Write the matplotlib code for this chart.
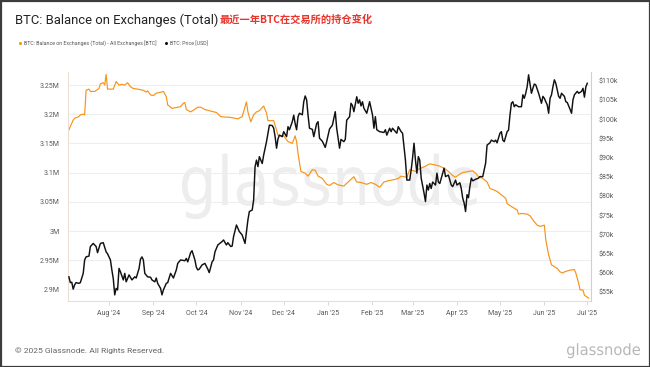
import matplotlib
matplotlib.use("Agg")
import matplotlib.pyplot as plt
import matplotlib.dates as mdates
from matplotlib.ticker import FixedLocator, FixedFormatter
from matplotlib.textpath import TextPath
from matplotlib.patches import PathPatch, Rectangle
from matplotlib.font_manager import FontProperties
from matplotlib.transforms import Affine2D
from matplotlib.lines import Line2D
import pandas as pd

# ---------------- data ----------------
balance_dates = [
    "2024-07-04", "2024-07-05", "2024-07-07", "2024-07-08", "2024-07-11", "2024-07-12", "2024-07-14",
    "2024-07-15", "2024-07-16", "2024-07-18", "2024-07-19", "2024-07-22", "2024-07-25", "2024-07-26",
    "2024-07-28", "2024-07-29", "2024-07-30", "2024-07-31", "2024-08-02", "2024-08-04", "2024-08-06",
    "2024-08-08", "2024-08-10", "2024-08-12", "2024-08-14", "2024-08-16", "2024-08-18", "2024-08-21",
    "2024-08-25", "2024-08-27", "2024-08-28", "2024-08-30", "2024-09-01", "2024-09-03", "2024-09-06",
    "2024-09-08", "2024-09-10", "2024-09-11", "2024-09-14", "2024-09-16", "2024-09-20", "2024-09-22",
    "2024-09-23", "2024-09-24", "2024-09-27", "2024-09-29", "2024-10-02", "2024-10-04", "2024-10-07",
    "2024-10-10", "2024-10-15", "2024-10-18", "2024-10-21", "2024-10-24", "2024-10-28", "2024-10-30",
    "2024-11-02", "2024-11-05", "2024-11-06", "2024-11-08", "2024-11-10", "2024-11-12", "2024-11-14",
    "2024-11-17", "2024-11-19", "2024-11-20", "2024-11-24", "2024-11-26", "2024-11-27", "2024-12-01",
    "2024-12-04", "2024-12-07", "2024-12-09", "2024-12-10", "2024-12-11", "2024-12-13", "2024-12-16",
    "2024-12-18", "2024-12-21", "2024-12-23", "2024-12-25", "2024-12-28", "2024-12-31", "2025-01-02",
    "2025-01-05", "2025-01-08", "2025-01-12", "2025-01-15", "2025-01-19", "2025-01-21", "2025-01-24",
    "2025-01-28", "2025-01-31", "2025-02-03", "2025-02-06", "2025-02-09", "2025-02-12", "2025-02-16",
    "2025-02-19", "2025-02-21", "2025-02-25", "2025-02-27", "2025-03-03", "2025-03-06", "2025-03-10",
    "2025-03-13", "2025-03-17", "2025-03-20", "2025-03-24", "2025-03-26", "2025-03-29", "2025-03-31",
    "2025-04-02", "2025-04-05", "2025-04-09", "2025-04-12", "2025-04-14", "2025-04-16", "2025-04-19",
    "2025-04-22", "2025-04-24", "2025-04-28", "2025-04-30", "2025-05-02", "2025-05-05", "2025-05-06",
    "2025-05-09", "2025-05-13", "2025-05-14", "2025-05-16", "2025-05-20", "2025-05-22", "2025-05-24",
    "2025-05-27", "2025-05-29", "2025-06-01", "2025-06-02", "2025-06-04", "2025-06-06", "2025-06-10",
    "2025-06-12", "2025-06-14", "2025-06-15", "2025-06-19", "2025-06-22", "2025-06-23", "2025-06-25",
    "2025-06-26", "2025-06-28", "2025-06-29", "2025-07-02",
]
balance_btc_m = [
    3.173, 3.179, 3.190, 3.193, 3.196, 3.199, 3.200,
    3.199, 3.241, 3.243, 3.239, 3.239, 3.244, 3.252,
    3.254, 3.250, 3.268, 3.243, 3.243, 3.243, 3.256,
    3.250, 3.251, 3.250, 3.254, 3.247, 3.244, 3.243,
    3.241, 3.238, 3.240, 3.233, 3.232, 3.236, 3.2375,
    3.239, 3.230, 3.216, 3.210, 3.211, 3.213, 3.219,
    3.220, 3.208, 3.204, 3.207, 3.212, 3.212, 3.208,
    3.206, 3.203, 3.196, 3.195, 3.195, 3.193, 3.192,
    3.196, 3.221, 3.204, 3.187, 3.199, 3.204, 3.206,
    3.214, 3.202, 3.189, 3.189, 3.173, 3.164, 3.163,
    3.153, 3.150, 3.163, 3.153, 3.133, 3.102, 3.099,
    3.094, 3.105, 3.104, 3.094, 3.090, 3.080, 3.078,
    3.083, 3.079, 3.077, 3.084, 3.093, 3.084, 3.083,
    3.080, 3.083, 3.080, 3.075, 3.084, 3.086, 3.088,
    3.090, 3.094, 3.092, 3.105, 3.102, 3.107, 3.111,
    3.115, 3.113, 3.111, 3.106, 3.102, 3.095, 3.092,
    3.096, 3.100, 3.102, 3.103, 3.099, 3.093, 3.090,
    3.084, 3.073, 3.069, 3.066, 3.062, 3.056, 3.047,
    3.042, 3.036, 3.029, 3.030, 3.029, 3.026, 3.019,
    3.010, 3.008, 3.010, 2.985, 2.959, 2.942, 2.936,
    2.930, 2.928, 2.930, 2.933, 2.934, 2.928, 2.910,
    2.899, 2.899, 2.890, 2.885,
]

price_dates = [
    "2024-07-04", "2024-07-05", "2024-07-06", "2024-07-07", "2024-07-08", "2024-07-09", "2024-07-11",
    "2024-07-12", "2024-07-14", "2024-07-15", "2024-07-16", "2024-07-18", "2024-07-19", "2024-07-21",
    "2024-07-23", "2024-07-24", "2024-07-26", "2024-07-28", "2024-07-30", "2024-07-31", "2024-08-02",
    "2024-08-03", "2024-08-04", "2024-08-05", "2024-08-06", "2024-08-07", "2024-08-08", "2024-08-09",
    "2024-08-11", "2024-08-12", "2024-08-13", "2024-08-15", "2024-08-17", "2024-08-19", "2024-08-20",
    "2024-08-22", "2024-08-23", "2024-08-24", "2024-08-25", "2024-08-26", "2024-08-28", "2024-08-30",
    "2024-08-31", "2024-09-02", "2024-09-03", "2024-09-04", "2024-09-06", "2024-09-07", "2024-09-08",
    "2024-09-10", "2024-09-11", "2024-09-13", "2024-09-15", "2024-09-17", "2024-09-18", "2024-09-20",
    "2024-09-23", "2024-09-24", "2024-09-25", "2024-09-27", "2024-09-28", "2024-09-30", "2024-10-01",
    "2024-10-02", "2024-10-03", "2024-10-05", "2024-10-07", "2024-10-09", "2024-10-10", "2024-10-12",
    "2024-10-13", "2024-10-14", "2024-10-16", "2024-10-19", "2024-10-20", "2024-10-22", "2024-10-23",
    "2024-10-25", "2024-10-26", "2024-10-27", "2024-10-29", "2024-10-31", "2024-11-02", "2024-11-03",
    "2024-11-04", "2024-11-06", "2024-11-07", "2024-11-09", "2024-11-10", "2024-11-11", "2024-11-12",
    "2024-11-13", "2024-11-14", "2024-11-16", "2024-11-17", "2024-11-19", "2024-11-20", "2024-11-21",
    "2024-11-23", "2024-11-24", "2024-11-25", "2024-11-26", "2024-11-27", "2024-11-28", "2024-11-30",
    "2024-12-01", "2024-12-03", "2024-12-04", "2024-12-05", "2024-12-07", "2024-12-08", "2024-12-09",
    "2024-12-10", "2024-12-11", "2024-12-12", "2024-12-14", "2024-12-15", "2024-12-16", "2024-12-17",
    "2024-12-18", "2024-12-19", "2024-12-21", "2024-12-22", "2024-12-24", "2024-12-25", "2024-12-26",
    "2024-12-28", "2024-12-30", "2024-12-31", "2025-01-02", "2025-01-04", "2025-01-06", "2025-01-07",
    "2025-01-09", "2025-01-10", "2025-01-12", "2025-01-13", "2025-01-14", "2025-01-16", "2025-01-17",
    "2025-01-18", "2025-01-19", "2025-01-21", "2025-01-22", "2025-01-23", "2025-01-24", "2025-01-25",
    "2025-01-26", "2025-01-28", "2025-01-30", "2025-01-31", "2025-02-01", "2025-02-02", "2025-02-03",
    "2025-02-04", "2025-02-06", "2025-02-09", "2025-02-10", "2025-02-11", "2025-02-13", "2025-02-14",
    "2025-02-15", "2025-02-17", "2025-02-18", "2025-02-19", "2025-02-21", "2025-02-22", "2025-02-23",
    "2025-02-24", "2025-02-25", "2025-02-27", "2025-02-28", "2025-03-01", "2025-03-02", "2025-03-03",
    "2025-03-04", "2025-03-05", "2025-03-06", "2025-03-07", "2025-03-09", "2025-03-10", "2025-03-11",
    "2025-03-12", "2025-03-13", "2025-03-14", "2025-03-15", "2025-03-17", "2025-03-18", "2025-03-19",
    "2025-03-20", "2025-03-22", "2025-03-23", "2025-03-24", "2025-03-26", "2025-03-28", "2025-03-29",
    "2025-03-31", "2025-04-01", "2025-04-03", "2025-04-04", "2025-04-05", "2025-04-06", "2025-04-07",
    "2025-04-08", "2025-04-09", "2025-04-10", "2025-04-11", "2025-04-12", "2025-04-14", "2025-04-16",
    "2025-04-17", "2025-04-19", "2025-04-21", "2025-04-22", "2025-04-24", "2025-04-25", "2025-04-27",
    "2025-04-28", "2025-04-29", "2025-05-01", "2025-05-02", "2025-05-03", "2025-05-04", "2025-05-06",
    "2025-05-07", "2025-05-08", "2025-05-09", "2025-05-10", "2025-05-11", "2025-05-12", "2025-05-14",
    "2025-05-16", "2025-05-17", "2025-05-18", "2025-05-19", "2025-05-20", "2025-05-21", "2025-05-23",
    "2025-05-24", "2025-05-25", "2025-05-26", "2025-05-28", "2025-05-30", "2025-05-31", "2025-06-01",
    "2025-06-02", "2025-06-03", "2025-06-04", "2025-06-05", "2025-06-06", "2025-06-07", "2025-06-08",
    "2025-06-09", "2025-06-11", "2025-06-12", "2025-06-13", "2025-06-15", "2025-06-16", "2025-06-17",
    "2025-06-19", "2025-06-20", "2025-06-21", "2025-06-22", "2025-06-24", "2025-06-25", "2025-06-27",
    "2025-06-28", "2025-06-29", "2025-06-30", "2025-07-01",
]
price_usd_k = [
    59.0, 57.5, 57.6, 55.8, 56.9, 57.5, 57.3,
    57.5, 59.9, 63.4, 64.2, 64.4, 66.9, 67.7,
    66.9, 65.3, 67.7, 67.9, 65.5, 65.0, 63.4,
    60.8, 58.5, 54.3, 56.0, 55.6, 61.2, 60.3,
    58.2, 59.9, 57.7, 59.5, 58.2, 59.0, 58.7,
    61.2, 63.6, 64.2, 63.4, 59.9, 59.0, 58.9,
    58.2, 57.7, 58.7, 57.3, 56.0, 54.3, 55.6,
    57.3, 57.5, 59.9, 58.7, 60.8, 62.5, 63.4,
    63.2, 63.8, 62.9, 65.3, 65.8, 63.4, 61.5,
    60.8, 61.0, 62.1, 62.5, 61.0, 60.1, 62.9,
    63.4, 65.5, 67.3, 68.2, 68.6, 67.3, 67.9,
    66.9, 67.0, 69.5, 72.5, 70.8, 69.9, 68.8,
    67.7, 73.8, 76.0, 76.4, 79.0, 87.7, 89.4,
    87.7, 90.3, 88.5, 90.7, 94.2, 96.4, 98.5,
    98.4, 97.7, 95.5, 92.5, 94.9, 95.9, 95.5,
    96.8, 95.5, 98.1, 97.3, 99.4, 101.1, 98.9,
    97.3, 100.7, 101.6, 101.2, 104.6, 106.1, 105.1,
    101.1, 97.7, 97.4, 95.5, 98.9, 99.4, 95.1,
    94.3, 92.7, 94.2, 97.5, 98.5, 102.0, 97.7,
    92.5, 94.8, 94.2, 94.8, 99.8, 100.7, 104.2,
    103.6, 102.0, 105.9, 104.2, 105.1, 103.5, 104.6,
    102.9, 101.6, 104.6, 102.9, 101.2, 97.7, 100.7,
    97.3, 96.8, 96.6, 97.3, 95.9, 97.7, 96.8,
    97.7, 96.8, 96.4, 98.1, 96.8, 96.4, 92.9,
    89.4, 84.2, 84.2, 86.8, 90.0, 93.8, 89.4,
    86.0, 90.3, 89.4, 84.7, 80.8, 78.6, 82.9,
    81.6, 83.3, 82.0, 83.7, 82.9, 86.0, 83.7,
    83.3, 86.0, 87.3, 85.1, 85.5, 82.9, 82.5,
    84.2, 82.9, 83.5, 82.0, 79.5, 78.2, 76.0,
    80.4, 79.6, 82.5, 84.7, 84.0, 84.4, 84.7,
    85.1, 85.1, 88.6, 93.3, 93.9, 94.6, 94.2,
    94.6, 93.9, 96.4, 96.8, 94.6, 94.2, 96.8,
    97.2, 101.1, 104.2, 104.6, 103.3, 103.8, 103.3,
    103.3, 106.4, 105.5, 106.8, 108.5, 111.6, 106.8,
    108.1, 109.2, 109.0, 106.8, 104.2, 106.0, 105.5,
    104.6, 103.8, 101.6, 105.5, 106.4, 108.5, 110.3,
    109.4, 106.0, 105.5, 106.8, 106.0, 104.6, 104.4,
    102.6, 101.6, 105.1, 106.4, 107.3, 106.8, 107.3,
    108.1, 105.8, 108.5, 109.4,
]

left_ticks = [2.9, 2.95, 3.0, 3.05, 3.1, 3.15, 3.2, 3.25]
left_labels = ["2.9M", "2.95M", "3M", "3.05M", "3.1M", "3.15M", "3.2M", "3.25M"]
right_ticks = [55, 60, 65, 70, 75, 80, 85, 90, 95, 100, 105, 110]
right_labels = ["$55k", "$60k", "$65k", "$70k", "$75k", "$80k", "$85k", "$90k",
                "$95k", "$100k", "$105k", "$110k"]
month_ticks = ["2024-08-01", "2024-09-01", "2024-10-01", "2024-11-01", "2024-12-01", "2025-01-01",
               "2025-02-01", "2025-03-01", "2025-04-01", "2025-05-01", "2025-06-01", "2025-07-01"]
month_labels = ["Aug '24", "Sep '24", "Oct '24", "Nov '24", "Dec '24", "Jan '25",
                "Feb '25", "Mar '25", "Apr '25", "May '25", "Jun '25", "Jul '25"]

title_en = "BTC: Balance on Exchanges (Total)"
title_cn = "最近一年BTC在交易所的持仓变化"
legend_labels = ["BTC: Balance on Exchanges (Total) - All Exchanges [BTC]", "BTC: Price [USD]"]

# ---------------- figure ----------------
W, H = 650, 367
fig = plt.figure(figsize=(W / 100, H / 100), dpi=100)
fig.patch.set_facecolor("white")
FONT = "Roboto"
ORANGE = "#f7931a"
BLACK = "#111111"
TICKC = "#5a5a5a"


def fx(px):
    return px / W


def fy(py):
    return 1 - py / H


def fitted_text(s, x0, x1, y_base, x_height, color, z):
    fp = FontProperties(family="DejaVu Sans")
    tp = TextPath((0, 0), s, size=100, prop=fp)
    ext = tp.get_extents()
    xh = TextPath((0, 0), "x", size=100, prop=fp).get_extents().height
    sx = (x1 - x0) / ext.width
    sy = x_height / xh
    tr = (Affine2D().translate(-ext.x0, 0).scale(sx, sy)
          .translate(x0, H - y_base).scale(1.0 / W, 1.0 / H))
    patch = PathPatch(tr.transform_path(tp), fc=color, ec="none",
                      transform=fig.transFigure, zorder=z)
    fig.patches.append(patch)
    patch.set_figure(fig)


# watermark (behind the plot)
fitted_text("glassnode", 182, 478, 205, 37, "#ededed", -5)

ax = fig.add_axes([fx(68), fy(300.5), fx(591) - fx(68), fy(72) - fy(300.5)])
ax2 = ax.twinx()
for a in (ax, ax2):
    a.set_facecolor("none")

bd = pd.to_datetime(balance_dates)
pdts = pd.to_datetime(price_dates)
ax.plot(bd, balance_btc_m, color=ORANGE, lw=0.85, solid_joinstyle="round")
ax2.plot(pdts, price_usd_k, color=BLACK, lw=1.05, solid_joinstyle="round")

ax.set_xlim(pd.Timestamp("2024-07-03 09:00"), pd.Timestamp("2025-07-03 14:00"))
ax.set_ylim(2.881, 3.2723)
ax2.set_ylim(52.84, 112.34)

ax.yaxis.set_major_locator(FixedLocator(left_ticks))
ax.yaxis.set_major_formatter(FixedFormatter(left_labels))
ax2.yaxis.set_major_locator(FixedLocator(right_ticks))
ax2.yaxis.set_major_formatter(FixedFormatter(right_labels))
mt = mdates.date2num(pd.to_datetime(month_ticks))
ax.xaxis.set_major_locator(FixedLocator(mt))
ax.xaxis.set_major_formatter(FixedFormatter(month_labels))

ax.yaxis.grid(True, color="#eeeeee", lw=0.8)
ax.set_axisbelow(True)

ax.tick_params(axis="y", length=0, pad=5.8, labelsize=5, labelcolor=TICKC)
ax2.tick_params(axis="y", length=0, pad=5.5, labelsize=5, labelcolor=TICKC)
ax.tick_params(axis="x", length=3, width=0.6, color="#d5d5d5", pad=4, labelsize=5, labelcolor=TICKC)
for lab in ax.get_xticklabels() + ax.get_yticklabels() + ax2.get_yticklabels():
    lab.set_family(FONT)

ax.spines["top"].set_visible(False)
ax.spines["right"].set_visible(False)
ax.spines["left"].set_color("#eadfd2")
ax.spines["left"].set_linewidth(0.8)
ax.spines["bottom"].set_color("#e0e0e0")
ax.spines["bottom"].set_linewidth(0.8)
for s in ("top", "left", "bottom"):
    ax2.spines[s].set_visible(False)
ax2.spines["right"].set_color("#cfcfcf")
ax2.spines["right"].set_linewidth(0.8)

# title
t1 = fig.text(fx(15), fy(20), title_en, fontsize=9.4, color="#222222",
              family=FONT, va="center", ha="left")
fig.canvas.draw()
bb = t1.get_window_extent(fig.canvas.get_renderer())
fig.text(bb.x1 / W + fx(1), fy(20), title_cn, fontsize=7.4, color="#e8352b",
         family=["Noto Sans CJK SC", "DejaVu Sans"], weight="bold", va="center", ha="left")

# legend
fig.add_artist(Line2D([fx(20)], [fy(43.3)], marker="o", ms=2.2, color=ORANGE, mec="none",
                      transform=fig.transFigure))
fig.text(fx(24), fy(43.3), legend_labels[0], fontsize=3.8, color="#555555", family=FONT, va="center")
fig.add_artist(Line2D([fx(166)], [fy(43.3)], marker="o", ms=2.2, color=BLACK, mec="none",
                      transform=fig.transFigure))
fig.text(fx(170), fy(43.3), legend_labels[1], fontsize=3.8, color="#555555", family=FONT, va="center")

# footer
fig.text(fx(15), fy(351), "© 2025 Glassnode. All Rights Reserved.", fontsize=6.1,
         color="#666666", family=FONT, va="center", ha="left")
fitted_text("glassnode", 567, 640, 355, 8.5, "#b8b8b8", 5)

# frame border
fig.patches.append(Rectangle((0.5 / W, 0.5 / H), 1 - 1.0 / W, 1 - 1.0 / H, transform=fig.transFigure,
                             fill=False, ec="#3c3c3c", lw=1.6, zorder=10))

fig.savefig("out.png", dpi=100, facecolor="white")
